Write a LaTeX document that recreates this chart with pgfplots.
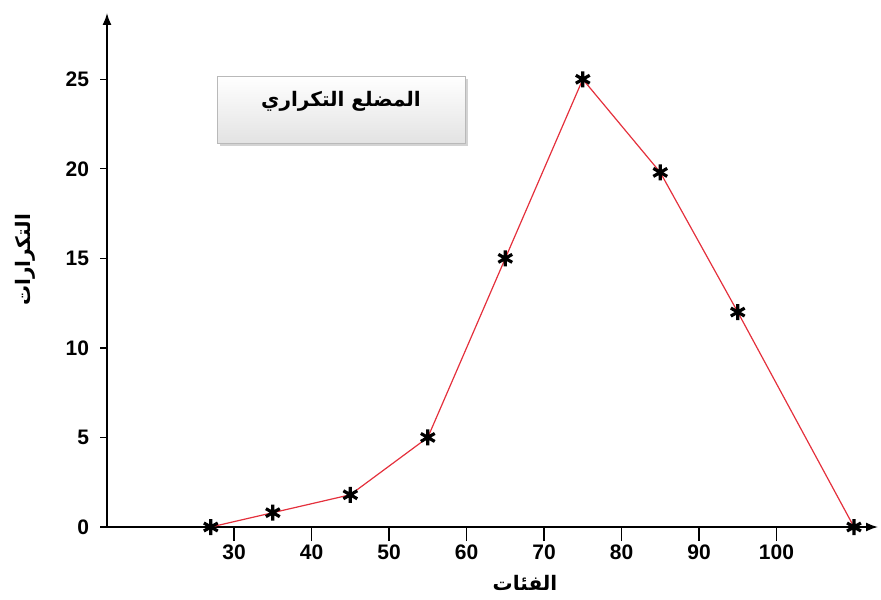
\documentclass[border=0pt]{standalone}
\usepackage{pgfplots}
\pgfplotsset{compat=1.18}
\usepackage{fontspec}
\setmainfont{Liberation Sans}
\newfontfamily\arabicfont[Script=Arabic]{DejaVu Sans}
\TeXXeTstate=1
\usetikzlibrary{arrows.meta,shadows}
\definecolor{linered}{HTML}{E4303C}
\newlength{\pu}\setlength{\pu}{0.5pt}
\begin{document}
\begin{tikzpicture}
\useasboundingbox (-107\pu,-72\pu) rectangle (774\pu,527\pu);
\begin{axis}[
  at={(0,0)}, anchor=south west,
  scale only axis, width=771\pu, height=514\pu,
  xmin=13.6, xmax=113.1, ymin=0, ymax=28.7,
  axis lines=left,
  axis line style={line width=0.8pt, -{Latex[length=6pt,width=4.5pt]}},
  xtick=\empty,
  extra x ticks={30,40,50,60,70,80,90,100},
  extra x tick style={major tick length=7pt, tick align=outside, grid=none,
    tick style={line width=0.8pt, black},
    tick label style={yshift=1.5pt}},
  ytick={0,5,10,15,20,25},
  tick align=outside,
  major tick length=3.5pt,
  ytick style={line width=0.6pt, black},
  /pgf/number format/assume math mode=true,
  ticklabel style={font=\bfseries\fontsize{10.5}{12}\selectfont},
  yticklabel style={xshift=-2pt},
  clip=false,
]
\addplot[color=linered, line width=0.6pt, mark=asterisk, mark size=4pt,
  mark options={black, line width=1.6pt, solid}]
  coordinates {(27,0) (35,0.8) (45,1.8) (55,5) (65,15) (75,25) (85,19.8) (95,12) (110,0)};
\end{axis}
\node[font=\arabicfont\bfseries\fontsize{10}{12}\selectfont] at (418\pu,-56\pu) {\beginR الفئات\endR};
\node[rotate=90, font=\arabicfont\bfseries\fontsize{10}{12}\selectfont] at (-82\pu,267\pu) {\beginR التكرارات\endR};
\node[draw=gray!55, line width=0.4pt, top color=white, bottom color=gray!22,
  minimum width=248\pu, minimum height=67\pu, inner sep=0pt,
  drop shadow={opacity=0.35, shadow xshift=1.5pt, shadow yshift=-1.5pt}] at (234\pu,417.5\pu) {};
\node[font=\arabicfont\bfseries\fontsize{10}{12}\selectfont] at (234\pu,426\pu) {\beginR المضلع التكراري\endR};
\end{tikzpicture}
\end{document}
